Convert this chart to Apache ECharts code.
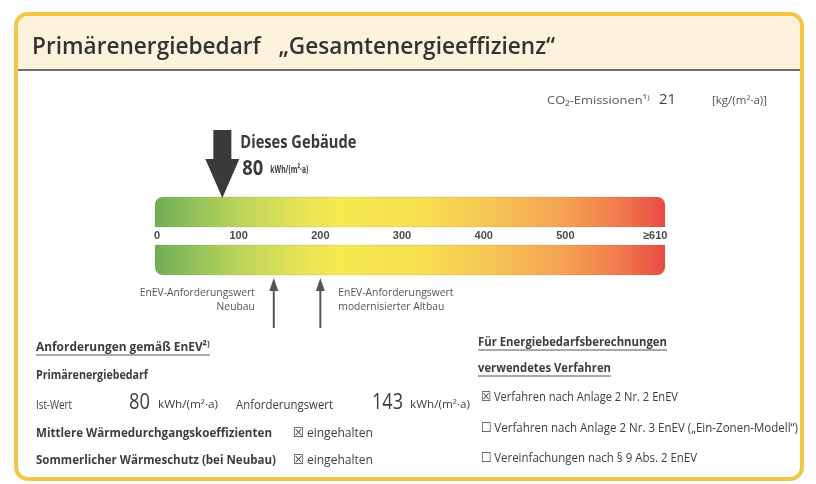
<!DOCTYPE html>
<html>
<head>
<meta charset="utf-8">
<script src="https://cdn.jsdelivr.net/npm/echarts@6/dist/echarts.min.js"></script>
<style>
  html, body { margin: 0; padding: 0; background: #fff; }
  #chart { width: 816px; height: 484px; }
</style>
</head>
<body>
<div id="chart"></div>
<script>
// Primary energy scale in kWh/(m²·a)
const scaleTicks = [0, 100, 200, 300, 400, 500, 610];
const scaleLabels = ['0', '100', '200', '300', '400', '500', '≥610'];
const scaleEnd = 622;            // open-ended tail of the band beyond 610

// This building and the EnEV requirement values
const buildingValue = 80;
const requirementValues = [143, 200];
const requirementLabels = ['EnEV-Anforderungswert\nNeubau', 'EnEV-Anforderungswert\nmodernisierter Altbau'];
const co2Value = 21;

const FONT = '"Open Sans", "Noto Sans", "DejaVu Sans", sans-serif';
const TEXT = '#3d3d3d';
const GREY = '#555';

const bandStops = [
  { offset: 0.00, color: '#6fae58' },
  { offset: 0.09, color: '#98c35a' },
  { offset: 0.16, color: '#b9d35a' },
  { offset: 0.26, color: '#dfe156' },
  { offset: 0.36, color: '#f6ea50' },
  { offset: 0.52, color: '#f8df4e' },
  { offset: 0.64, color: '#f6c953' },
  { offset: 0.79, color: '#f4a552' },
  { offset: 0.91, color: '#f07a4d' },
  { offset: 1.00, color: '#ea4a45' }
];

const chart = echarts.init(document.getElementById('chart'), null, { renderer: 'canvas' });

// text width helper: condensed type is obtained by squeezing a regular face horizontally
const mctx = document.createElement('canvas').getContext('2d');
function textWidth(text, font) { mctx.font = font; return mctx.measureText(text).width; }
function fontStr(size, weight) { return (weight || 'normal') + ' ' + size + 'px ' + FONT; }

function fitted(x, y, text, size, weight, fill, width, align, lineHeight) {
  const font = fontStr(size, weight);
  const w = Math.max.apply(null, text.split('\n').map(function (l) { return textWidth(l, font); }));
  return {
    type: 'text', x: x, y: y, scaleX: width ? width / w : 1, silent: true,
    style: {
      text: text, font: font, fill: fill || TEXT,
      align: align || 'left', verticalAlign: 'middle', lineHeight: lineHeight || size * 1.25
    }
  };
}

function underlined(x, y, text, size, weight, width) {
  return [
    fitted(x, y, text, size, weight, TEXT, width),
    { type: 'line', silent: true, shape: { x1: x, y1: y + 8, x2: x + width, y2: y + 8 },
      style: { stroke: '#555', lineWidth: 1 } }
  ];
}

function renderBands(params, api) {
  const cs = params.coordSys;
  const x0 = api.coord([api.value(0), 0])[0] - 2;
  const x1 = api.coord([api.value(1), 0])[0];
  const bandH = 30;
  const grad = new echarts.graphic.LinearGradient(0, 0, 1, 0, bandStops);
  return {
    type: 'group',
    children: [
      { type: 'rect', shape: { x: x0, y: cs.y, width: x1 - x0, height: bandH, r: [8, 8, 0, 0] },
        style: { fill: grad, stroke: 'rgba(120,120,80,0.18)', lineWidth: 1 } },
      { type: 'rect', shape: { x: x0, y: cs.y + cs.height - bandH, width: x1 - x0, height: bandH, r: [0, 0, 8, 8] },
        style: { fill: grad, stroke: 'rgba(120,120,80,0.18)', lineWidth: 1 } }
    ]
  };
}

function renderBuilding(params, api) {
  const cs = params.coordSys;
  const v = api.value(0);
  const x = api.coord([v, 1])[0];
  const top = cs.y;
  return {
    type: 'group',
    children: [
      { type: 'rect', shape: { x: x - 9, y: top - 67, width: 18, height: 32 }, style: { fill: '#3a3a3a' } },
      { type: 'polygon', shape: { points: [[x - 17, top - 38], [x + 17, top - 38], [x, top + 1]] },
        style: { fill: '#3a3a3a' } },
      fitted(x + 18, top - 54, 'Dieses Gebäude', 17, 'bold', '#3a3a3a', 116),
      fitted(x + 20, top - 28, String(v), 21, 'bold', '#3a3a3a', 21),
      fitted(x + 48, top - 27, 'kWh/(m²·a)', 11, 'bold', '#3a3a3a', 38)
    ]
  };
}

function renderRequirement(params, api) {
  const cs = params.coordSys;
  const v = api.value(0);
  const idx = api.value(1);
  const x = api.coord([v, 0])[0];
  const tip = cs.y + cs.height + 3;
  const leftSide = idx === 0;
  return {
    type: 'group',
    children: [
      { type: 'line', shape: { x1: x, y1: tip + 8, x2: x, y2: tip + 50 }, style: { stroke: '#555', lineWidth: 2 } },
      { type: 'polygon', shape: { points: [[x, tip], [x - 4.5, tip + 13], [x + 4.5, tip + 13]] }, style: { fill: '#555' } },
      fitted(leftSide ? x - 19 : x + 18, tip + 22, requirementLabels[idx], 11, 'normal', GREY, 115,
             leftSide ? 'right' : 'left', 14)
    ]
  };
}

const graphics = [
  // frame and header
  { type: 'rect', z: -10, silent: true, shape: { x: 16, y: 14, width: 786, height: 465, r: 12 },
    style: { fill: '#fff', stroke: '#f3c64a', lineWidth: 4 } },
  { type: 'rect', z: -9, silent: true, shape: { x: 18, y: 16, width: 782, height: 54, r: [10, 10, 0, 0] },
    style: { fill: '#fdf2dc' } },
  { type: 'line', z: -8, silent: true, shape: { x1: 18, y1: 70, x2: 800, y2: 70 },
    style: { stroke: '#6f6f6f', lineWidth: 2 } },
  fitted(32, 47, 'Primärenergiebedarf   „Gesamtenergieeffizienz“', 24, '600', '#333', 523),

  // CO2 emissions
  fitted(547, 101, 'CO₂-Emissionen¹⁾', 11, 'normal', GREY, 103),
  fitted(659, 100, String(co2Value), 15, 'normal', '#444', 17),
  fitted(712, 101, '[kg/(m²·a)]', 11, 'normal', GREY, 55),

  // requirements block
  ...underlined(36, 347, 'Anforderungen gemäß EnEV²⁾', 13, 'bold', 174),
  fitted(36, 375, 'Primärenergiebedarf', 13, 'bold', TEXT, 112),
  fitted(36, 405, 'Ist-Wert', 13, 'normal', TEXT, 36),
  fitted(129, 403, String(buildingValue), 21, 'normal', TEXT, 21),
  fitted(158, 405, 'kWh/(m²·a)', 11, 'normal', TEXT, 60),
  fitted(236, 405, 'Anforderungswert', 13, 'normal', TEXT, 97),
  fitted(372, 403, String(requirementValues[0]), 21, 'normal', TEXT, 31),
  fitted(410, 405, 'kWh/(m²·a)', 11, 'normal', TEXT, 60),
  fitted(36, 433, 'Mittlere Wärmedurchgangskoeffizienten', 13, 'bold', TEXT, 236),
  fitted(293, 433, '☒ eingehalten', 13, 'normal', TEXT, 80),
  fitted(36, 460, 'Sommerlicher Wärmeschutz (bei Neubau)', 13, 'bold', TEXT, 240),
  fitted(293, 460, '☒ eingehalten', 13, 'normal', TEXT, 80),

  // calculation method block
  ...underlined(478, 342, 'Für Energiebedarfsberechnungen', 13, 'bold', 189),
  ...underlined(478, 368, 'verwendetes Verfahren', 13, 'bold', 133),
  fitted(481, 397, '☒ Verfahren nach Anlage 2 Nr. 2 EnEV', 13, 'normal', TEXT, 197),
  fitted(481, 428, '☐ Verfahren nach Anlage 2 Nr. 3 EnEV („Ein-Zonen-Modell“)', 13, 'normal', TEXT, 317),
  fitted(481, 458, '☐ Vereinfachungen nach § 9 Abs. 2 EnEV', 13, 'normal', TEXT, 216)
];

const option = {
  animation: false,
  backgroundColor: '#fff',
  grid: { left: 157, right: 151, top: 197, height: 78 },
  xAxis: {
    type: 'value', min: 0, max: scaleEnd,
    position: 'bottom', offset: -48,
    axisLine: { show: false }, axisTick: { show: false }, splitLine: { show: false },
    axisLabel: {
      customValues: scaleTicks,
      margin: 3,
      color: '#4a4a4a',
      fontFamily: '"Liberation Sans", Arial, sans-serif', fontWeight: 'bold', fontSize: 11,
      formatter: function (v) { return scaleLabels[scaleTicks.indexOf(v)]; }
    }
  },
  yAxis: { type: 'value', min: 0, max: 1, show: false },
  graphic: graphics,
  series: [
    { type: 'custom', z: 1, renderItem: renderBands, encode: { x: [0, 1] },
      data: [[scaleTicks[0], scaleEnd]], silent: true },
    { type: 'custom', z: 3, renderItem: renderBuilding, encode: { x: 0 },
      data: [[buildingValue]], silent: true },
    { type: 'custom', z: 3, renderItem: renderRequirement, encode: { x: 0, y: 1 },
      data: requirementValues.map(function (v, i) { return [v, i]; }), silent: true }
  ]
};

chart.setOption(option);
</script>
</body>
</html>
